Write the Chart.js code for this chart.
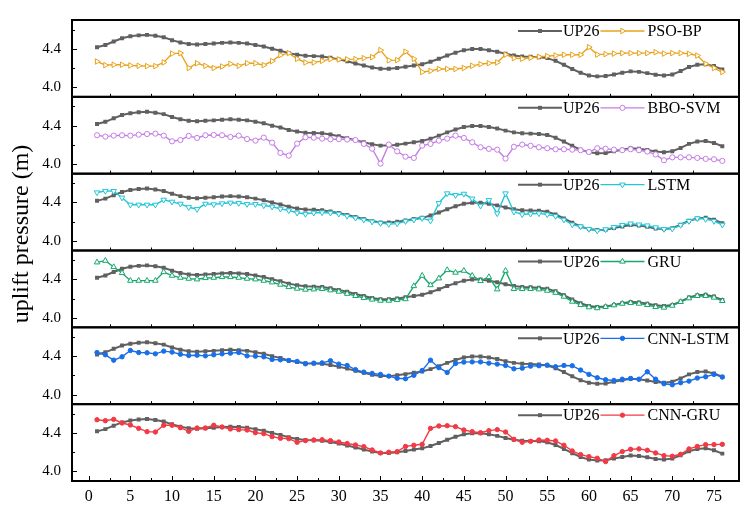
<!DOCTYPE html>
<html>
<head>
<meta charset="utf-8">
<script src="https://cdn.jsdelivr.net/npm/chart.js"></script>
<style>
  html, body { margin: 0; padding: 0; background: #fff; }
</style>
</head>
<body>
<canvas id="chart" width="744" height="507"></canvas>
<script>
// monitoring days (x)
const days = [1,2,3,4,5,6,7,8,9,10,11,12,13,14,15,16,17,18,19,20,21,22,23,24,25,26,27,28,29,30,
  31,32,33,34,35,36,37,38,39,40,41,42,43,44,45,46,47,48,49,50,51,52,53,54,55,56,57,58,59,60,
  61,62,63,64,65,66,67,68,69,70,71,72,73,74,75,76];
const xTicks = [0,5,10,15,20,25,30,35,40,45,50,55,60,65,70,75];
const xMinor = [2.5,7.5,12.5,17.5,22.5,27.5,32.5,37.5,42.5,47.5,52.5,57.5,62.5,67.5,72.5,77.5];
const yTicks = [4.0, 4.4];
const yMinor = [4.2, 4.6];

// measured uplift pressure
const up26 = [4.417,4.44,4.476,4.51,4.53,4.54,4.545,4.535,4.52,4.49,
  4.466,4.45,4.445,4.45,4.455,4.462,4.466,4.462,4.455,4.44,
  4.424,4.40,4.38,4.355,4.338,4.327,4.324,4.32,4.307,4.29,
  4.27,4.248,4.227,4.206,4.192,4.192,4.2,4.213,4.227,4.24,
  4.265,4.296,4.33,4.36,4.386,4.397,4.397,4.386,4.37,4.348,
  4.33,4.32,4.317,4.313,4.303,4.275,4.234,4.19,4.15,4.123,
  4.113,4.116,4.133,4.15,4.165,4.16,4.147,4.13,4.123,4.133,
  4.168,4.21,4.234,4.24,4.22,4.185];

// model predictions
const psoBp = [4.268,4.23,4.234,4.234,4.227,4.223,4.22,4.22,4.258,4.35,
  4.355,4.2,4.25,4.223,4.2,4.216,4.244,4.223,4.25,4.25,
  4.23,4.272,4.334,4.355,4.296,4.258,4.258,4.275,4.293,4.29,
  4.29,4.293,4.303,4.313,4.386,4.28,4.282,4.37,4.296,4.158,
  4.17,4.19,4.19,4.19,4.2,4.223,4.24,4.25,4.258,4.34,
  4.303,4.296,4.307,4.317,4.324,4.33,4.338,4.338,4.338,4.417,
  4.34,4.345,4.35,4.355,4.355,4.355,4.355,4.365,4.35,4.355,
  4.355,4.348,4.33,4.244,4.2,4.158];
const bboSvm = [4.30,4.286,4.296,4.30,4.296,4.306,4.313,4.317,4.296,4.237,
  4.25,4.293,4.272,4.30,4.303,4.30,4.282,4.296,4.26,4.244,
  4.275,4.223,4.116,4.088,4.213,4.279,4.275,4.265,4.258,4.26,
  4.255,4.25,4.21,4.16,4.005,4.203,4.133,4.077,4.064,4.192,
  4.21,4.244,4.265,4.296,4.272,4.227,4.175,4.158,4.15,4.057,
  4.18,4.203,4.19,4.175,4.165,4.154,4.154,4.15,4.144,4.126,
  4.165,4.16,4.15,4.144,4.154,4.144,4.13,4.1,4.04,4.07,
  4.07,4.07,4.064,4.054,4.05,4.033];
const lstm = [4.504,4.52,4.518,4.45,4.376,4.376,4.376,4.376,4.428,4.407,
  4.386,4.35,4.33,4.386,4.38,4.39,4.397,4.393,4.383,4.383,
  4.369,4.355,4.334,4.317,4.293,4.28,4.293,4.296,4.293,4.282,
  4.26,4.24,4.22,4.2,4.185,4.175,4.18,4.205,4.22,4.237,
  4.21,4.393,4.494,4.476,4.49,4.44,4.365,4.424,4.286,4.494,
  4.303,4.275,4.282,4.286,4.275,4.258,4.22,4.17,4.15,4.123,
  4.106,4.12,4.144,4.165,4.18,4.17,4.16,4.14,4.123,4.126,
  4.165,4.206,4.234,4.227,4.206,4.168];
const gru = [4.577,4.594,4.528,4.466,4.386,4.386,4.386,4.386,4.476,4.438,
  4.417,4.407,4.40,4.414,4.417,4.424,4.424,4.417,4.407,4.40,
  4.386,4.369,4.345,4.32,4.303,4.293,4.296,4.30,4.286,4.272,
  4.25,4.227,4.206,4.19,4.178,4.178,4.185,4.194,4.33,4.438,
  4.34,4.41,4.497,4.47,4.49,4.438,4.383,4.424,4.296,4.49,
  4.30,4.30,4.30,4.296,4.282,4.26,4.22,4.168,4.133,4.11,
  4.1,4.113,4.13,4.147,4.154,4.147,4.133,4.113,4.106,4.126,
  4.165,4.203,4.227,4.227,4.21,4.175];
const cnnLstm = [4.438,4.414,4.358,4.393,4.459,4.438,4.435,4.424,4.452,4.442,
  4.42,4.407,4.41,4.403,4.414,4.424,4.431,4.438,4.403,4.40,
  4.393,4.365,4.362,4.355,4.345,4.32,4.327,4.33,4.352,4.317,
  4.303,4.26,4.234,4.22,4.21,4.192,4.17,4.165,4.2,4.25,
  4.358,4.28,4.23,4.324,4.338,4.34,4.34,4.327,4.317,4.303,
  4.268,4.275,4.296,4.30,4.307,4.29,4.303,4.30,4.255,4.21,
  4.175,4.154,4.147,4.16,4.168,4.16,4.237,4.16,4.113,4.102,
  4.123,4.14,4.172,4.185,4.21,4.182];
const cnnGru = [4.538,4.528,4.542,4.504,4.483,4.448,4.414,4.41,4.48,4.48,
  4.455,4.417,4.452,4.452,4.48,4.462,4.442,4.435,4.431,4.403,
  4.393,4.362,4.345,4.341,4.303,4.32,4.327,4.33,4.32,4.306,
  4.29,4.275,4.258,4.223,4.192,4.2,4.206,4.26,4.272,4.282,
  4.448,4.473,4.476,4.466,4.431,4.414,4.403,4.424,4.435,4.41,
  4.334,4.303,4.313,4.327,4.324,4.317,4.272,4.213,4.175,4.154,
  4.137,4.102,4.164,4.206,4.23,4.234,4.22,4.192,4.164,4.158,
  4.178,4.234,4.26,4.279,4.279,4.282];

const refName = 'UP26';
const modelNames = ['PSO-BP', 'BBO-SVM', 'LSTM', 'GRU', 'CNN-LSTM', 'CNN-GRU'];
const modelValues = [psoBp, bboSvm, lstm, gru, cnnLstm, cnnGru];

const refColor = '#606060';
const modelColors = ['#e8a31c', '#c47de6', '#22c6d6', '#17a86b', '#1a6fe8', '#f23a45'];
const modelMarks = [
  { pointStyle: 'triangle', rotation: 90, radius: 3.2, fill: '#fff' },
  { pointStyle: 'circle', rotation: 0, radius: 2.6, fill: '#fff' },
  { pointStyle: 'triangle', rotation: 180, radius: 3.2, fill: '#fff' },
  { pointStyle: 'triangle', rotation: 0, radius: 3.2, fill: '#fff' },
  { pointStyle: 'circle', rotation: 0, radius: 2.2, fill: null },
  { pointStyle: 'circle', rotation: 0, radius: 2.2, fill: null }
];

const fontName = "'Liberation Serif', 'Times New Roman', serif";
const panelIds = modelNames.map((n, k) => 'p' + k);   // p0 = top panel

const toPoints = vals => vals.map((v, i) => ({ x: days[i], y: v }));

const datasets = [];
modelNames.forEach((name, k) => {
  const m = modelMarks[k];
  datasets.push({
    label: name,
    data: toPoints(modelValues[k]),
    yAxisID: panelIds[k],
    order: 0,
    borderColor: modelColors[k],
    borderWidth: 1.4,
    pointStyle: m.pointStyle,
    rotation: m.rotation,
    pointRadius: m.radius,
    pointBorderWidth: 1,
    pointBorderColor: modelColors[k],
    pointBackgroundColor: m.fill || modelColors[k]
  });
  datasets.push({
    label: refName,
    data: toPoints(up26),
    yAxisID: panelIds[k],
    order: 1,
    borderColor: refColor,
    borderWidth: 2,
    pointStyle: 'rect',
    pointRadius: 2.8,
    pointBorderWidth: 0,
    pointBackgroundColor: refColor
  });
});

const scales = {
  x: {
    type: 'linear',
    min: -2,
    max: 78,
    afterBuildTicks: s => { s.ticks = xTicks.map(v => ({ value: v })); },
    afterFit: s => { s.height = 26; },
    grid: { display: false, drawTicks: false },
    border: { display: false },
    ticks: {
      autoSkip: false, maxRotation: 0, padding: 6, color: '#000',
      font: { family: fontName, size: 16 }
    }
  }
};
// stacked left axes are laid out last-defined on top, so add them bottom first
panelIds.slice().reverse().forEach(id => {
  scales[id] = {
    type: 'linear',
    position: 'left',
    stack: 'panels',
    stackWeight: 1,
    min: 3.9,
    max: 4.7,
    afterBuildTicks: s => { s.ticks = yTicks.map(v => ({ value: v })); },
    afterFit: s => { s.width = 72; },
    grid: { display: false, drawTicks: false },
    border: { display: false },
    ticks: {
      padding: 11, color: '#000',
      font: { family: fontName, size: 15 },
      callback: v => Number(v).toFixed(1)
    }
  };
});

function marker(ctx, opts, x, y, color, fill) {
  ctx.save();
  ctx.strokeStyle = color;
  ctx.fillStyle = fill || color;
  ctx.lineWidth = opts.borderWidth;
  Chart.helpers.drawPoint(ctx, opts, x, y);
  ctx.restore();
}

const panelDecor = {
  id: 'panelDecor',
  afterDraw(chart) {
    const ctx = chart.ctx;
    const area = chart.chartArea;
    const xs = chart.scales.x;
    const bottomId = panelIds[panelIds.length - 1];
    ctx.save();
    ctx.strokeStyle = '#000';
    panelIds.forEach((id, k) => {
      const s = chart.scales[id];
      // inward tick marks
      ctx.lineWidth = 1;
      ctx.strokeStyle = '#000';
      ctx.beginPath();
      yTicks.forEach(v => {
        const y = Math.round(s.getPixelForValue(v)) + 0.5;
        ctx.moveTo(area.left, y); ctx.lineTo(area.left + 5, y);
      });
      yMinor.forEach(v => {
        const y = Math.round(s.getPixelForValue(v)) + 0.5;
        ctx.moveTo(area.left, y); ctx.lineTo(area.left + 3, y);
      });
      if (id === bottomId) {
        xTicks.forEach(v => {
          const x = Math.round(xs.getPixelForValue(v)) + 0.5;
          ctx.moveTo(x, s.bottom); ctx.lineTo(x, s.bottom - 5);
        });
      }
      xMinor.forEach(v => {
        if (v > 77) return;
        const x = Math.round(xs.getPixelForValue(v)) + 0.5;
        ctx.moveTo(x, s.bottom); ctx.lineTo(x, s.bottom - 3);
      });
      ctx.stroke();
      // frame
      ctx.lineWidth = 2;
      ctx.strokeRect(area.left, s.top, area.right - area.left, s.bottom - s.top);

      // legend
      const ly = s.top + 11;
      const lineLen = 44;
      let lx = 518;
      ctx.font = '16px ' + fontName;
      ctx.textBaseline = 'middle';
      ctx.textAlign = 'left';
      ctx.lineWidth = 2;
      ctx.strokeStyle = refColor;
      ctx.beginPath(); ctx.moveTo(lx, ly); ctx.lineTo(lx + lineLen, ly); ctx.stroke();
      marker(ctx, { pointStyle: 'rect', rotation: 0, radius: 2.8, borderWidth: 0 }, lx + lineLen / 2, ly, refColor);
      lx += lineLen + 1;
      ctx.fillStyle = '#000';
      ctx.fillText(refName, lx, ly + 1);
      lx += ctx.measureText(refName).width + 1;
      const m = modelMarks[k];
      ctx.lineWidth = 1.4;
      ctx.strokeStyle = modelColors[k];
      ctx.beginPath(); ctx.moveTo(lx, ly); ctx.lineTo(lx + lineLen, ly); ctx.stroke();
      marker(ctx, { pointStyle: m.pointStyle, rotation: m.rotation, radius: m.radius, borderWidth: 1 },
        lx + lineLen / 2, ly, modelColors[k], m.fill);
      lx += lineLen + 3;
      ctx.fillStyle = '#000';
      ctx.fillText(modelNames[k], lx, ly + 1);
    });
    // y axis title
    ctx.translate(22, 234);
    ctx.rotate(-Math.PI / 2);
    ctx.font = '24px ' + fontName;
    ctx.textAlign = 'center';
    ctx.textBaseline = 'middle';
    ctx.fillStyle = '#000';
    ctx.fillText('uplift pressure (m)', 0, 0);
    ctx.restore();
  }
};

new Chart(document.getElementById('chart'), {
  type: 'line',
  data: { datasets: datasets },
  options: {
    responsive: false,
    animation: false,
    devicePixelRatio: 1,
    layout: { padding: { left: 0, top: 14, right: 2, bottom: 0 } },
    plugins: { legend: { display: false }, tooltip: { enabled: false } },
    elements: { line: { tension: 0 } },
    scales: scales
  },
  plugins: [panelDecor]
});
</script>
</body>
</html>
